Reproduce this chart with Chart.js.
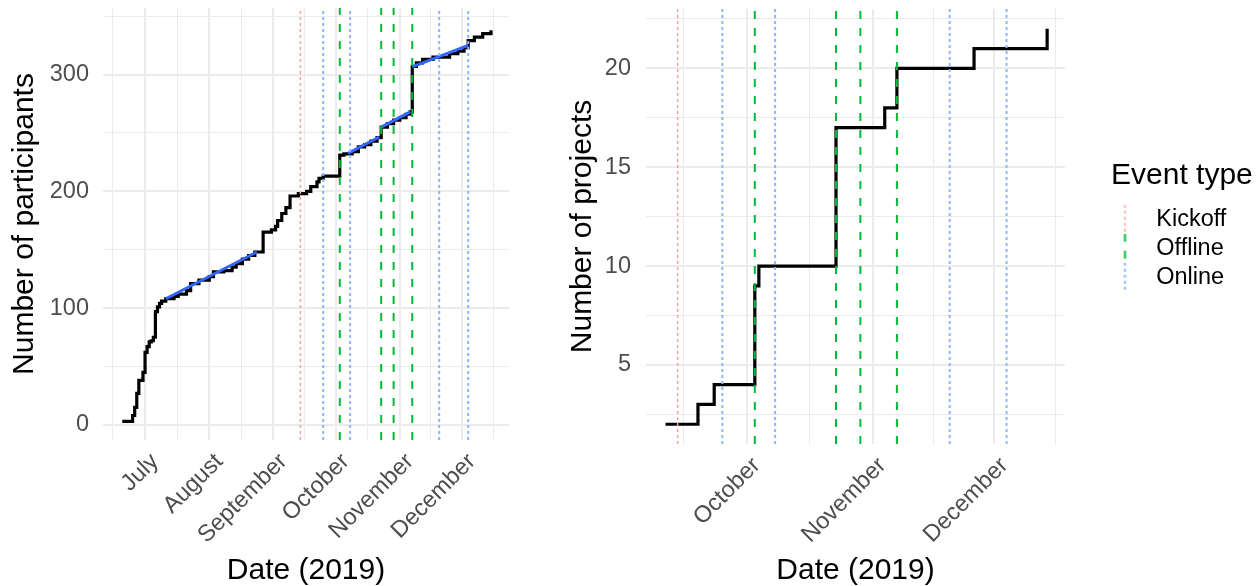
<!DOCTYPE html>
<html>
<head>
<meta charset="utf-8">
<script src="https://cdn.jsdelivr.net/npm/chart.js@4.4.1/dist/chart.umd.min.js"></script>
<style>
  html, body { margin: 0; padding: 0; background: #fff; overflow: hidden; }
  #left { position: absolute; left: 0; top: 0; }
  #right { position: absolute; left: 556px; top: 0; }
</style>
</head>
<body>
<canvas id="left" width="520" height="586"></canvas>
<canvas id="right" width="700" height="586"></canvas>
<script>
// participants over time (left panel, step line)
const partDates = ['2019-06-20', '2019-06-25', '2019-06-26', '2019-06-27', '2019-06-28', '2019-06-30',
  '2019-07-01', '2019-07-02', '2019-07-03', '2019-07-04', '2019-07-05', '2019-07-06', '2019-07-07',
  '2019-07-08', '2019-07-09', '2019-07-11', '2019-07-15', '2019-07-17', '2019-07-21', '2019-07-23',
  '2019-07-27', '2019-08-01', '2019-08-03', '2019-08-08', '2019-08-12', '2019-08-14', '2019-08-17',
  '2019-08-20', '2019-08-23', '2019-08-27', '2019-08-31', '2019-09-02', '2019-09-03', '2019-09-05',
  '2019-09-07', '2019-09-09', '2019-09-13', '2019-09-17', '2019-09-19', '2019-09-22', '2019-09-23',
  '2019-09-25', '2019-10-03', '2019-10-05', '2019-10-09', '2019-10-12', '2019-10-15', '2019-10-18',
  '2019-10-21', '2019-10-23', '2019-10-26', '2019-10-29', '2019-11-01', '2019-11-04', '2019-11-06',
  '2019-11-07', '2019-11-09', '2019-11-12', '2019-11-17', '2019-11-25', '2019-11-29', '2019-12-02',
  '2019-12-04', '2019-12-07', '2019-12-11', '2019-12-15'];
const partCounts = [3, 8, 15, 27, 38, 45,
  62, 67, 71, 72, 75, 97, 101,
  104, 106, 108, 110, 112, 115, 121,
  124, 127, 131, 132, 135, 138, 142,
  145, 148, 165, 167, 170, 175, 181,
  186, 196, 198, 200, 204, 208, 211,
  213, 231, 232, 234, 238, 240, 243,
  246, 255, 258, 261, 263, 266, 268,
  307, 310, 313, 315, 318, 320, 323,
  329, 332, 335, 338];

// linear trend segments (blue)
const trendStart = ['2019-07-11', '2019-10-07', '2019-10-23', '2019-11-07'];
const trendEnd = ['2019-08-24', '2019-10-22', '2019-11-06', '2019-12-04'];
const trendFrom = [108, 232.5, 255, 306.5];
const trendTo = [148, 246.5, 268, 325];

// projects over time (right panel)
const projDates = ['2019-09-11', '2019-09-19', '2019-09-23', '2019-10-03', '2019-10-04',
  '2019-10-23', '2019-11-04', '2019-11-07', '2019-11-26', '2019-12-14'];
const projCounts = [2, 3, 4, 9, 10, 17, 18, 20, 21, 22];

// events
const eventTypes = ['Kickoff', 'Offline', 'Online'];
const kickoffDates = ['2019-09-14'];
const offlineDates = ['2019-10-03', '2019-10-23', '2019-10-29', '2019-11-07'];
const onlineDates = ['2019-09-25', '2019-10-08', '2019-11-20', '2019-12-04'];

// axis ticks
const leftMonths = ['July', 'August', 'September', 'October', 'November', 'December'];
const leftMonthStarts = ['2019-07-01', '2019-08-01', '2019-09-01', '2019-10-01', '2019-11-01', '2019-12-01'];
const rightMonths = ['October', 'November', 'December'];
const rightMonthStarts = ['2019-10-01', '2019-11-01', '2019-12-01'];
const partTicks = [0, 100, 200, 300];
const projTicks = [5, 10, 15, 20];

const base = Date.UTC(2019, 0, 1);
function toDay(s) { return (Date.parse(s) - base) / 86400000; }

Chart.defaults.font.family = "'Liberation Sans', Arial, Helvetica, sans-serif";
Chart.defaults.animation = false;

const GRID = '#EBEBEB';
const evStyle = {
  Kickoff: { color: '#F5A19B', width: 1.5, dash: [3, 3] },
  Offline: { color: '#00BA38', width: 2, dash: [8, 9] },
  Online: { color: '#8AB5FF', width: 2, dash: [3, 3] }
};
const evDates = { Kickoff: kickoffDates, Offline: offlineDates, Online: onlineDates };

function eventSets(ymin, ymax) {
  return eventTypes.map(t => ({
    label: t,
    isEvent: true,
    data: evDates[t].flatMap(d => [{ x: toDay(d), y: ymin }, { x: toDay(d), y: ymax }, { x: toDay(d), y: null }]),
    borderColor: evStyle[t].color,
    borderWidth: evStyle[t].width,
    borderDash: evStyle[t].dash,
    borderCapStyle: 'butt',
    pointRadius: 0,
    spanGaps: false
  }));
}

// major ticks at month starts, minor ones half way
function monthTicks(starts, min, max) {
  const maj = starts.map(toDay);
  const vals = [];
  const step0 = maj[1] - maj[0];
  const stepN = maj[maj.length - 1] - maj[maj.length - 2];
  vals.push(maj[0] - step0 / 2);
  maj.forEach((v, i) => {
    vals.push(v);
    if (i < maj.length - 1) vals.push((v + maj[i + 1]) / 2);
  });
  vals.push(maj[maj.length - 1] + stepN / 2);
  return vals.filter(v => v >= min && v <= max);
}

function xScale(starts, names, min, max, height) {
  const maj = starts.map(toDay);
  return {
    type: 'linear',
    min: min, max: max,
    afterBuildTicks: s => { s.ticks = monthTicks(starts, min, max).map(v => ({ value: v })); },
    afterFit: s => { s.height = height; s.paddingLeft = 0; s.paddingRight = 0; },
    border: { display: false },
    grid: {
      drawTicks: false,
      color: GRID,
      lineWidth: c => maj.includes(c.tick.value) ? 2 : 1
    },
    ticks: {
      autoSkip: false,
      minRotation: 45, maxRotation: 45,
      padding: 8,
      labelOffset: 10,
      color: '#4D4D4D',
      font: { size: 23.5 },
      callback: v => { const i = maj.indexOf(v); return i >= 0 ? names[i] : ''; }
    },
    title: { display: true, text: 'Date (2019)', color: '#000', font: { size: 30 }, padding: { top: 0, bottom: -3 } }
  };
}

function yScale(min, max, step, majors, title, width, titlePad, tickPad) {
  return {
    min: min, max: max,
    afterBuildTicks: s => {
      const t = [];
      for (let v = Math.ceil(min / step) * step; v <= max; v += step) t.push({ value: v });
      s.ticks = t;
    },
    afterFit: s => { s.width = width; s.paddingTop = 0; s.paddingBottom = 0; },
    border: { display: false },
    grid: {
      drawTicks: false,
      color: GRID,
      lineWidth: c => majors.includes(c.tick.value) ? 2 : 1
    },
    ticks: {
      padding: tickPad,
      color: '#4D4D4D',
      font: { size: 23.5 },
      callback: v => majors.includes(v) ? String(v) : ''
    },
    title: { display: true, text: title, color: '#000', font: { size: 30 }, padding: { top: titlePad, bottom: 0 } }
  };
}

// left: participants
const L_MIN = -13, L_MAX = 357;
const trendData = [];
trendStart.forEach((d, i) => {
  trendData.push({ x: toDay(d), y: trendFrom[i] }, { x: toDay(trendEnd[i]), y: trendTo[i] }, { x: toDay(trendEnd[i]), y: null });
});

new Chart(document.getElementById('left'), {
  type: 'line',
  data: {
    datasets: [
      ...eventSets(L_MIN, L_MAX),
      { label: 'trend', data: trendData, borderColor: '#3366FF', borderWidth: 3, pointRadius: 0, spanGaps: false },
      {
        label: 'participants',
        data: partDates.map((d, i) => ({ x: toDay(d), y: partCounts[i] })),
        borderColor: '#000', borderWidth: 3.2, stepped: 'before', pointRadius: 0,
        borderJoinStyle: 'miter', borderCapStyle: 'butt'
      }
    ]
  },
  options: {
    responsive: false,
    devicePixelRatio: 1,
    layout: { padding: { left: 0, right: 11, top: 8, bottom: 0 } },
    plugins: { legend: { display: false }, tooltip: { enabled: false } },
    scales: {
      x: xScale(leftMonthStarts, leftMonths, toDay('2019-06-10') + 0.7, toDay('2019-12-24') - 0.3, 146),
      y: yScale(L_MIN, L_MAX, 50, partTicks, 'Number of participants', 103, 7, 14)
    }
  }
});

// right: projects
const R_MIN = 1, R_MAX = 23;

function keyImage(t) {
  const c = document.createElement('canvas');
  c.width = 20; c.height = 29;
  const g = c.getContext('2d');
  g.strokeStyle = evStyle[t].color;
  g.lineWidth = evStyle[t].width;
  g.setLineDash(evStyle[t].dash);
  g.beginPath(); g.moveTo(4.5, 0); g.lineTo(4.5, 29); g.stroke();
  return c;
}
const keys = {};
eventTypes.forEach(t => { keys[t] = keyImage(t); });

// the legend clips to its own box, so give it room up to the canvas edge
const wideLegend = {
  id: 'wideLegend',
  afterInit(chart) {
    const fit = chart.legend.fit;
    chart.legend.fit = function () { fit.call(this); this.width = 145; };
  }
};

new Chart(document.getElementById('right'), {
  type: 'line',
  plugins: [wideLegend],
  data: {
    datasets: [
      ...eventSets(R_MIN, R_MAX),
      {
        label: 'projects',
        data: projDates.map((d, i) => ({ x: toDay(d), y: projCounts[i] })),
        borderColor: '#000', borderWidth: 3.2, stepped: 'before', pointRadius: 0,
        borderJoinStyle: 'miter', borderCapStyle: 'butt'
      }
    ]
  },
  options: {
    responsive: false,
    devicePixelRatio: 1,
    layout: { padding: { left: 0, right: 0, top: 9, bottom: 0 } },
    plugins: {
      tooltip: { enabled: false },
      legend: {
        position: 'right',
        align: 'start',
        title: { display: true, text: 'Event type', color: '#000', position: 'start', font: { size: 30 }, padding: { top: 152, bottom: 5 } },
        labels: {
          usePointStyle: true,
          pointStyleWidth: 28,
          padding: 5.5,
          color: '#000',
          font: { size: 23.5 },
          generateLabels: chart => chart.data.datasets
            .filter(ds => ds.isEvent)
            .map(ds => ({ text: ds.label, pointStyle: keys[ds.label], fontColor: '#000', lineWidth: 0, strokeStyle: 'transparent', fillStyle: 'transparent', hidden: false }))
        }
      }
    },
    scales: {
      x: xScale(rightMonthStarts, rightMonths, toDay('2019-09-06') + 0.2, toDay('2019-12-18') + 0.4, 142),
      y: yScale(R_MIN, R_MAX, 2.5, projTicks, 'Number of projects', 90, 9, 15),
      gap: {
        type: 'linear', position: 'right', display: true,
        grid: { display: false }, border: { display: false }, ticks: { display: false },
        afterFit: s => { s.width = 46; s.paddingTop = 0; s.paddingBottom = 0; }
      }
    }
  }
});
</script>
</body>
</html>
